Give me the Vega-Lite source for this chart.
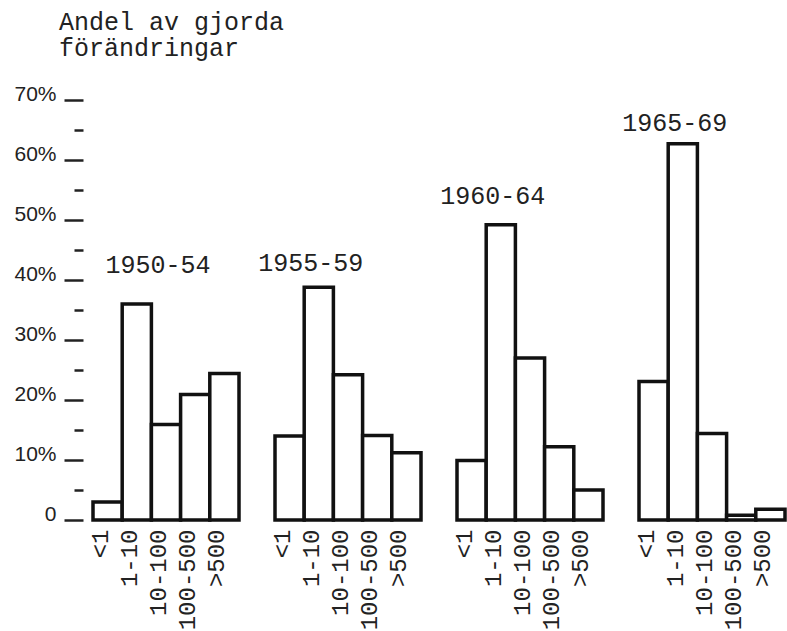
{
  "$schema": "https://vega.github.io/schema/vega-lite/v6.json",
  "background": "white",
  "padding": {"left": 13, "top": 10, "right": 0, "bottom": 0},
  "bounds": "flush",
  "title": {
    "text": ["Andel av gjorda", "förändringar"],
    "anchor": "start",
    "font": "Liberation Mono",
    "fontSize": 25,
    "fontWeight": "normal",
    "color": "#222",
    "lineHeight": 25.6,
    "dx": 45,
    "offset": 22
  },
  "data": {
    "values": [
      {"period": "1950-54", "cat": "<1", "value": 3.0},
      {"period": "1950-54", "cat": "1-10", "value": 36.0},
      {"period": "1950-54", "cat": "10-100", "value": 15.9},
      {"period": "1950-54", "cat": "100-500", "value": 20.9},
      {"period": "1950-54", "cat": ">500", "value": 24.4},
      {"period": "1955-59", "cat": "<1", "value": 14.0},
      {"period": "1955-59", "cat": "1-10", "value": 38.8},
      {"period": "1955-59", "cat": "10-100", "value": 24.2},
      {"period": "1955-59", "cat": "100-500", "value": 14.1},
      {"period": "1955-59", "cat": ">500", "value": 11.2},
      {"period": "1960-64", "cat": "<1", "value": 9.9},
      {"period": "1960-64", "cat": "1-10", "value": 49.2},
      {"period": "1960-64", "cat": "10-100", "value": 27.0},
      {"period": "1960-64", "cat": "100-500", "value": 12.2},
      {"period": "1960-64", "cat": ">500", "value": 5.0},
      {"period": "1965-69", "cat": "<1", "value": 23.1},
      {"period": "1965-69", "cat": "1-10", "value": 62.7},
      {"period": "1965-69", "cat": "10-100", "value": 14.4},
      {"period": "1965-69", "cat": "100-500", "value": 0.8},
      {"period": "1965-69", "cat": ">500", "value": 1.8},
      {"period": "1950-54", "cat": "10-100", "labelY": 42.5},
      {"period": "1955-59", "cat": "1-10", "labelY": 42.8},
      {"period": "1960-64", "cat": "1-10", "labelY": 54.0},
      {"period": "1965-69", "cat": "1-10", "labelY": 66.2}
    ]
  },
  "facet": {
    "column": {"field": "period", "type": "nominal", "header": {"labels": false, "title": null}}
  },
  "spacing": 36,
  "spec": {
    "width": 146,
    "height": 420,
    "layer": [
      {
        "transform": [{"filter": "isValid(datum.value)"}],
        "mark": {"type": "bar", "fill": "white", "stroke": "#111", "strokeWidth": 3.5, "strokeJoin": "miter"},
        "encoding": {
          "x": {
            "field": "cat",
            "type": "nominal",
            "sort": ["<1", "1-10", "10-100", "100-500", ">500"],
            "scale": {"domain": ["<1", "1-10", "10-100", "100-500", ">500"], "paddingInner": 0, "paddingOuter": 0},
            "axis": {
              "title": null,
              "domain": false,
              "ticks": false,
              "tickSize": 0,
              "labelAngle": 270,
              "labelFont": "Liberation Mono",
              "labelFontSize": 24,
              "labelColor": "#222",
              "labelPadding": 9,
              "labelOffset": -7
            }
          },
          "y": {
            "field": "value",
            "type": "quantitative",
            "scale": {"domain": [0, 70], "nice": false},
            "axis": {
              "title": null,
              "values": [0, 5, 10, 15, 20, 25, 30, 35, 40, 45, 50, 55, 60, 65, 70],
              "labelOverlap": false,
              "offset": 10,
              "domain": false,
              "grid": false,
              "tickColor": "#222",
              "tickWidth": 2.5,
              "tickSize": {"condition": {"test": "datum.value % 10 === 0", "value": 19}, "value": 9},
              "labelExpr": "datum.value === 0 ? '0' : (datum.value % 10 === 0 ? datum.value + '%' : ' ')",
              "labelFont": "Liberation Sans",
              "labelFontSize": 21,
              "labelColor": "#222",
              "labelBaseline": "alphabetic",
              "labelPadding": 8
            }
          }
        }
      },
      {
        "transform": [{"filter": "isValid(datum.labelY)"}],
        "mark": {"type": "text", "font": "Liberation Mono", "fontSize": 25, "dx": -8, "align": "center", "baseline": "middle", "color": "#222"},
        "encoding": {
          "x": {
            "field": "cat",
            "type": "nominal",
            "axis": {
              "title": null,
              "domain": false,
              "ticks": false,
              "tickSize": 0,
              "labelAngle": 270,
              "labelFont": "Liberation Mono",
              "labelFontSize": 24,
              "labelColor": "#222",
              "labelPadding": 9,
              "labelOffset": -7
            }
          },
          "y": {
            "field": "labelY",
            "type": "quantitative",
            "axis": {
              "title": null,
              "values": [0, 5, 10, 15, 20, 25, 30, 35, 40, 45, 50, 55, 60, 65, 70],
              "labelOverlap": false,
              "offset": 10,
              "domain": false,
              "grid": false,
              "tickColor": "#222",
              "tickWidth": 2.5,
              "tickSize": {"condition": {"test": "datum.value % 10 === 0", "value": 19}, "value": 9},
              "labelExpr": "datum.value === 0 ? '0' : (datum.value % 10 === 0 ? datum.value + '%' : ' ')",
              "labelFont": "Liberation Sans",
              "labelFontSize": 21,
              "labelColor": "#222",
              "labelBaseline": "alphabetic",
              "labelPadding": 8
            }
          },
          "text": {"field": "period"}
        }
      }
    ]
  },
  "config": {"view": {"stroke": null}}
}
